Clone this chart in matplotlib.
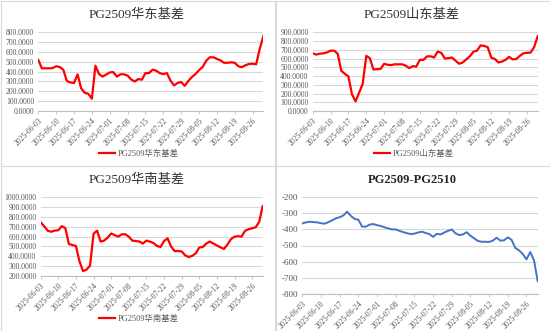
import numpy as np
import pandas as pd
import matplotlib
matplotlib.use("Agg")
import matplotlib.pyplot as plt
from matplotlib.patches import Rectangle

plt.rcParams["font.family"] = ["Liberation Serif", "Noto Sans CJK SC"]

# trading days, 2025-06-03 .. 2025-08-29
dates = pd.bdate_range("2025-06-03", "2025-08-29")
date_labels = [d.strftime("%Y-%m-%d") for d in dates]

# 华东基差
east = [519, 434, 434, 434, 436, 455, 447, 420, 305, 290, 285, 372, 230, 185, 175, 125,
        461, 375, 350, 370, 392, 395, 350, 373, 373, 360, 320, 300, 325, 318, 385, 385,
        420, 410, 385, 375, 385, 310, 260, 285, 295, 255, 305, 345, 375, 415, 447, 510,
        546, 546, 530, 515, 490, 490, 495, 490, 455, 445, 465, 478, 480, 475, 630, 760]

# 山东基差
shandong = [660, 645, 655, 660, 670, 690, 690, 655, 460, 425, 395, 190, 110, 210, 310, 630,
            605, 475, 478, 482, 540, 528, 525, 534, 534, 534, 520, 490, 512, 508, 585, 584,
            625, 625, 612, 680, 665, 600, 605, 612, 575, 540, 555, 590, 625, 678, 690, 750,
            745, 730, 610, 595, 555, 565, 585, 620, 590, 595, 630, 660, 665, 668, 730, 855]

# 华南基差
south = [746, 705, 660, 650, 662, 665, 708, 685, 525, 515, 505, 350, 250, 265, 305, 630,
         661, 550, 560, 590, 632, 615, 600, 624, 624, 600, 560, 555, 550, 530, 560, 549,
         535, 505, 495, 555, 583, 500, 454, 454, 450, 410, 393, 405, 430, 490, 495, 530,
         550, 530, 510, 492, 475, 520, 575, 600, 605, 600, 660, 675, 685, 695, 750, 910]

# PG2509-PG2510 价差
spread = [-364, -358, -354, -356, -358, -363, -366, -356, -345, -333, -326, -315, -292, -318, -337, -341,
          -384, -384, -372, -368, -375, -380, -388, -395, -401, -401, -410, -418, -424, -430, -427, -420,
          -415, -423, -430, -447, -428, -432, -420, -410, -402, -425, -436, -432, -418, -440, -456, -472,
          -477, -477, -478, -470, -452, -470, -468, -450, -465, -515, -530, -552, -585, -540, -590, -720]

W, H = 550, 331
RED = "#ff0000"
BLUE = "#4472c4"
GRID = "#d9d9d9"


def px_rect(l, t, r, b):
    return [l / W, 1 - b / H, (r - l) / W, (b - t) / H]


def style_axes(ax, ylim, ystep, fmt, fs):
    x = np.arange(len(dates))
    ax.set_xlim(0, len(x) - 1)
    ax.set_ylim(*ylim)
    ax.set_yticks(np.arange(ylim[0], ylim[1] + ystep / 2, ystep))
    ax.set_yticklabels([fmt(v) for v in ax.get_yticks()], fontsize=fs, color="#595959")
    ticks = x[::5]
    ax.set_xticks(ticks)
    ax.set_xticklabels([date_labels[i] for i in ticks], rotation=45, ha="right",
                       rotation_mode="anchor", fontsize=5.5, color="#595959")
    ax.grid(axis="y", color=GRID, lw=0.8)
    ax.set_axisbelow(True)
    for s in ("top", "right", "left"):
        ax.spines[s].set_visible(False)
    ax.spines["bottom"].set_color("#bfbfbf")
    ax.spines["bottom"].set_linewidth(0.8)
    ax.tick_params(axis="y", length=0, pad=3)
    ax.tick_params(axis="x", length=2.5, width=0.6, color="#bfbfbf", pad=1.5)
    return x


fig = plt.figure(figsize=(W / 100, H / 100), dpi=100)

# panel frames
for (l, t) in [(0, 0), (275, 0), (0, 165), (275, 165)]:
    fig.patches.append(Rectangle((l / W + 0.001, 1 - (t + 165.5) / H), 274 / W, 165 / H,
                                 transform=fig.transFigure, fill=False,
                                 edgecolor="#d9d9d9", lw=0.8))

four = lambda v: f"{v:.4f}"

panels = [
    (px_rect(38.3, 32.3, 263.3, 111), east, (0, 800), 100, "PG2509华东基差", (137, 15), (139, 154)),
    (px_rect(312.7, 32.3, 537.7, 111), shandong, (0, 900), 100, "PG2509山东基差", (412, 15), (414, 154)),
    (px_rect(40.7, 197.3, 262.7, 276), south, (200, 1000), 100, "PG2509华南基差", (137, 180), (139, 319)),
]

for rect, vals, ylim, step, title, tpos, lpos in panels:
    ax = fig.add_axes(rect)
    x = style_axes(ax, ylim, step, four, 5.5)
    line, = ax.plot(x, vals, color=RED, lw=1.6, label=title)
    fig.text(tpos[0] / W, 1 - tpos[1] / H, title, ha="center", va="center",
             fontsize=9.5, color="#333333")
    fig.legend([line], [title], loc="center", bbox_to_anchor=(lpos[0] / W, 1 - lpos[1] / H),
               frameon=False, fontsize=6, handlelength=1.9, handletextpad=0.3,
               labelcolor="#595959")

ax4 = fig.add_axes(px_rect(302.3, 196.7, 537.7, 294.3))
x = style_axes(ax4, (-800, -200), 100, lambda v: f"{v:.0f}", 6.5)
ax4.plot(x, spread, color=BLUE, lw=1.4)
fig.text(412 / W, 1 - 180 / H, "PG2509-PG2510", ha="center", va="center",
         fontsize=9, fontweight="bold", color="#262626")

fig.savefig("out.png", dpi=100)
